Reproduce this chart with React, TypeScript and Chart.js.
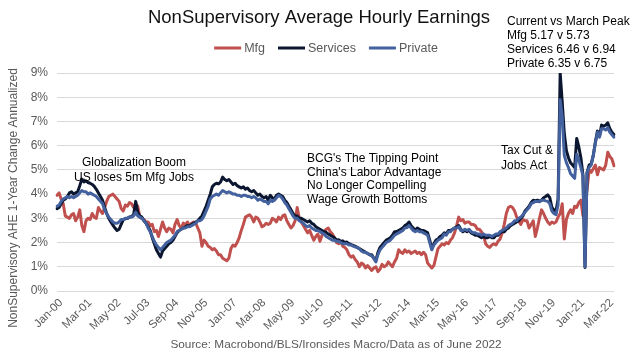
import React, { useEffect, useRef } from 'react';
import { Chart, registerables } from 'chart.js';

Chart.register(...registerables);

const MONTHS = ['Jan', 'Feb', 'Mar', 'Apr', 'May', 'Jun', 'Jul', 'Aug', 'Sep', 'Oct', 'Nov', 'Dec'];
const START_YEAR = 2000;
const POINT_COUNT = 270; // Jan-00 .. Jun-22
const LABEL_STEP = 14;
const categories: string[] = Array.from({ length: POINT_COUNT }, (_, i) =>
  `${MONTHS[i % 12]}-${String((START_YEAR + Math.floor(i / 12)) % 100).padStart(2, '0')}`
);

const Y_MIN = 0;
const Y_MAX = 9;

const seriesNames = ['Mfg', 'Services', 'Private'];
const seriesColors = ['#C0504D', '#0B1730', '#43619E'];

const mfg = [
  3.95, 4.05, 3.8, 3.6, 3.1, 3.05, 3.0, 3.15, 3.2, 2.9, 3.05, 3.35,
  2.7, 2.45, 2.9, 3.0, 2.95, 3.2, 3.05, 3.0, 3.45, 3.3, 3.2, 3.45,
  3.7, 3.9, 3.95, 4.0, 3.9, 3.8, 3.7, 3.4, 3.3, 3.55, 3.5, 3.65,
  3.6, 3.45, 3.6, 3.5, 3.05, 3.0, 2.95, 2.85, 2.85, 2.7, 2.75, 2.45,
  2.5, 2.25, 2.55, 2.85, 2.6, 2.45, 2.6, 2.55, 2.4, 2.75, 2.95, 2.7,
  2.6, 2.8, 2.75, 2.85, 2.7, 2.8, 2.85, 2.8, 2.6, 2.4, 1.85, 2.1,
  2.0, 1.85, 1.8, 1.7, 1.75, 1.65, 1.5, 1.5, 1.35, 1.3, 1.25, 1.35,
  1.75, 1.9, 1.85, 2.0, 2.2, 2.5, 2.75, 3.05, 3.1, 3.15, 3.05, 2.85,
  3.05, 3.0, 2.85, 2.65, 2.7, 2.8, 2.75, 2.8, 3.0, 2.95, 2.85, 3.05,
  2.95, 3.1, 3.15, 2.9, 2.75, 2.6, 2.7, 2.9, 3.45, 3.0, 2.85, 2.7,
  2.55, 2.4, 2.5, 2.3, 2.1, 2.25, 2.35, 2.05, 2.3, 2.45, 2.55, 2.6,
  2.45, 2.35, 2.2, 2.0, 1.95, 2.05, 1.85, 1.8, 1.7, 1.5, 1.4, 1.45,
  1.3, 1.2, 1.0, 1.15, 1.1, 0.95, 1.05, 0.95, 0.85, 0.95, 1.0, 0.8,
  0.9, 1.1, 1.0, 1.05, 1.2, 1.1, 1.0, 1.2, 1.35, 1.7, 1.6, 1.55,
  1.7, 1.6, 1.65, 1.55, 1.6, 1.65, 1.55, 1.6, 1.5, 1.6, 1.5, 1.15,
  1.05, 0.95, 1.05, 1.4, 1.75, 1.85, 1.95, 1.9, 2.0, 1.95, 2.1, 2.2,
  2.4, 2.7, 3.05, 2.9, 2.95, 2.8, 2.85, 2.85, 2.75, 2.75, 2.7, 2.55,
  2.55, 2.45, 2.3, 1.95, 1.85, 1.8, 1.9, 1.95, 1.9, 2.05, 2.15, 2.4,
  2.75, 3.2, 3.45, 3.5, 3.45, 3.3, 3.05, 2.9, 2.75, 2.95, 2.9, 2.9,
  2.6, 2.75, 2.9, 2.25, 2.6, 3.0, 3.35, 3.2, 3.0, 2.85, 2.75, 2.85,
  2.8, 2.85, 3.05, 3.2, 3.6, 2.15, 2.95, 3.2, 3.35, 3.2, 3.5, 3.45,
  3.65, 3.75, 3.1, 3.6, 4.2, 5.0, 4.9, 5.05, 5.2, 4.8, 5.1, 5.05,
  5.0, 5.2, 5.73, 5.55, 5.45, 5.17,
];

const services = [
  3.4, 3.45, 3.6, 3.75, 3.8, 3.9, 4.05, 4.1, 4.0, 4.05, 4.1, 4.35,
  4.62, 4.5, 4.55, 4.48, 4.45, 4.4, 4.32, 4.2, 4.05, 3.9, 3.75, 3.45,
  3.2, 3.0, 2.85, 2.72, 2.6, 2.5, 2.55, 2.75, 2.95, 2.98, 3.0, 3.05,
  3.08, 3.15, 3.7, 3.25, 3.1, 3.05, 2.9, 2.8, 2.65, 2.5, 2.2, 1.95,
  1.7, 1.55, 1.4, 1.65, 1.75, 1.85, 1.95, 2.0, 2.1, 2.25, 2.4, 2.5,
  2.55, 2.6, 2.65, 2.7, 2.68, 2.75, 2.8, 2.85, 2.9, 3.0, 3.1, 3.3,
  3.5, 3.75, 4.0, 4.3, 4.4, 4.45, 4.42, 4.5, 4.7, 4.6, 4.55, 4.6,
  4.5, 4.4, 4.45, 4.35, 4.3, 4.25, 4.3, 4.2, 4.25, 4.15, 4.1, 4.15,
  4.05, 3.95, 4.0, 3.9, 3.85, 3.9, 3.75, 3.95, 3.85, 3.8, 3.95, 4.0,
  3.95, 3.9, 3.75, 3.65, 3.5, 3.35, 3.2, 3.1, 3.1, 3.0, 3.0, 2.95,
  2.9, 2.85, 2.9, 2.8, 2.75, 2.65, 2.6, 2.55, 2.5, 2.45, 2.42, 2.35,
  2.3, 2.25, 2.2, 2.1, 2.12, 2.05, 2.07, 2.0, 2.02, 1.95, 1.92, 1.88,
  1.85, 1.8, 1.75, 1.7, 1.65, 1.6, 1.55, 1.5, 1.5, 1.35, 1.25, 1.6,
  1.8, 1.9, 2.0, 2.1, 2.15, 2.2, 2.3, 2.45, 2.45, 2.5, 2.55, 2.6,
  2.7, 2.75, 2.85, 2.7, 2.6, 2.5, 2.6, 2.55, 2.5, 2.5, 2.45, 2.4,
  2.1, 1.75, 1.95, 2.1, 2.15, 2.25, 2.3, 2.4, 2.35, 2.5, 2.5, 2.55,
  2.6, 2.65, 2.7, 2.55, 2.45, 2.5, 2.45, 2.5, 2.4, 2.35, 2.3, 2.3,
  2.25, 2.2, 2.25, 2.2, 2.2, 2.25, 2.2, 2.2, 2.3, 2.3, 2.4, 2.45,
  2.45, 2.55, 2.6, 2.7, 2.75, 2.8, 2.85, 2.9, 3.0, 3.1, 3.3, 3.4,
  3.5, 3.65, 3.75, 3.72, 3.75, 3.7, 3.75, 3.85, 3.9, 3.97, 3.85, 3.45,
  3.35, 3.3, 3.8, 9.0, 7.8, 6.5, 5.8, 5.5, 5.3, 5.2, 5.1, 6.3,
  5.95, 5.5, 4.8, 0.97, 4.9, 5.2, 5.25, 5.6, 6.15, 6.6, 6.4, 6.85,
  6.8, 6.85, 6.94, 6.7, 6.55, 6.46,
];

const privateSeries = [
  3.5, 3.55, 3.7, 3.8, 3.85, 3.9, 3.85, 3.9, 3.85, 3.9, 3.95, 4.05,
  4.15, 4.1, 4.1, 4.0, 4.05, 4.0, 3.95, 3.9, 3.8, 3.7, 3.6, 3.35,
  3.2, 3.05, 2.95, 2.85, 2.8, 2.8, 2.85, 2.95, 2.95, 3.0, 3.0, 3.05,
  3.05, 3.1, 3.25, 3.1, 3.05, 3.0, 2.9, 2.8, 2.6, 2.45, 2.25, 2.05,
  1.9, 1.8, 1.7, 1.8, 1.9, 2.0, 2.05, 2.1, 2.2, 2.3, 2.45, 2.5,
  2.55, 2.6, 2.6, 2.65, 2.65, 2.7, 2.75, 2.8, 2.9, 2.9, 2.95, 3.1,
  3.3, 3.5, 3.8, 3.9, 3.95, 4.0, 3.95, 4.05, 4.15, 4.1, 4.05, 4.1,
  4.05, 4.0, 4.0, 3.95, 3.95, 3.9, 3.95, 3.95, 3.9, 3.9, 3.85, 3.9,
  3.85, 3.75, 3.8, 3.75, 3.7, 3.7, 3.6, 3.75, 3.7, 3.75, 3.85, 3.95,
  3.9, 3.8, 3.65, 3.55, 3.4, 3.25, 3.1, 3.0, 3.0, 2.9, 2.85, 2.8,
  2.7, 2.65, 2.7, 2.6, 2.55, 2.5, 2.5, 2.45, 2.4, 2.35, 2.25, 2.2,
  2.15, 2.1, 2.1, 2.05, 2.05, 2.0, 1.95, 1.95, 1.95, 1.9, 1.9, 1.85,
  1.82, 1.8, 1.75, 1.65, 1.6, 1.6, 1.55, 1.5, 1.45, 1.35, 1.2, 1.5,
  1.7, 1.8, 1.9, 2.0, 2.05, 2.1, 2.2, 2.3, 2.35, 2.4, 2.45, 2.5,
  2.6, 2.62, 2.7, 2.6, 2.5, 2.45, 2.5, 2.45, 2.45, 2.4, 2.35, 2.3,
  2.0, 1.7, 1.9, 2.0, 2.1, 2.15, 2.2, 2.35, 2.3, 2.45, 2.45, 2.55,
  2.6, 2.6, 2.65, 2.5, 2.5, 2.55, 2.5, 2.55, 2.45, 2.4, 2.4, 2.35,
  2.35, 2.3, 2.35, 2.3, 2.3, 2.3, 2.25, 2.3, 2.35, 2.35, 2.45, 2.5,
  2.55, 2.6, 2.7, 2.75, 2.8, 2.9, 2.9, 3.0, 3.05, 3.15, 3.25, 3.35,
  3.45, 3.6, 3.65, 3.7, 3.7, 3.68, 3.75, 3.75, 3.72, 3.7, 3.6, 3.3,
  3.2, 3.15, 3.55, 7.9, 7.2, 5.6, 5.3, 5.1, 4.85, 4.75, 4.65, 5.65,
  5.4, 5.1, 4.75, 1.0, 4.9, 5.1, 5.2, 5.6, 6.1, 6.55, 6.35, 6.7,
  6.7, 6.65, 6.75, 6.55, 6.45, 6.35,
];

const TITLE = 'NonSupervisory Average Hourly Earnings';
const Y_TITLE = 'NonSupervisory AHE 1-Year Change Annualized';
const SOURCE = 'Source: Macrobond/BLS/Ironsides Macro/Data as of June 2022';
const PEAK_NOTE = ['Current vs March Peak', 'Mfg 5.17 v 5.73', 'Services 6.46 v 6.94', 'Private 6.35 v 6.75'];
const GLOBAL_NOTE = ['Globalization Boom', 'US loses 5m Mfg Jobs'];
const BCG_NOTE = ["BCG's The Tipping Point", "China's Labor Advantage", 'No Longer Compelling', 'Wage Growth Bottoms'];
const TAX_NOTE = ['Tax Cut &', 'Jobs Act'];

const FONT = '"Liberation Sans", Arial, sans-serif';
const GREY = '#595959';

const textPlugin = {
  id: 'chartTexts',
  afterDraw(chart: any) {
    const ctx: CanvasRenderingContext2D = chart.ctx;
    ctx.save();
    ctx.textBaseline = 'middle';

    // Title
    ctx.fillStyle = '#111111';
    ctx.textAlign = 'center';
    ctx.font = `18.5px ${FONT}`;
    ctx.fillText(TITLE, 319, 18);

    // Legend
    ctx.font = `12.5px ${FONT}`;
    const sw = 27, gapText = 3, gapItem = 13;
    const widths = seriesNames.map((n) => ctx.measureText(n).width);
    const total = widths.reduce((a, w) => a + sw + gapText + w, 0) + gapItem * (seriesNames.length - 1);
    let lx = 326 - total / 2;
    const ly = 48;
    ctx.textAlign = 'left';
    seriesNames.forEach((n, i) => {
      ctx.strokeStyle = seriesColors[i];
      ctx.lineWidth = 3;
      ctx.beginPath();
      ctx.moveTo(lx, ly);
      ctx.lineTo(lx + sw, ly);
      ctx.stroke();
      ctx.fillStyle = GREY;
      ctx.fillText(n, lx + sw + gapText, ly + 0.5);
      lx += sw + gapText + widths[i] + gapItem;
    });

    // Annotations
    ctx.fillStyle = '#000000';
    ctx.font = `12px ${FONT}`;
    ctx.textAlign = 'left';
    PEAK_NOTE.forEach((t, i) => ctx.fillText(t, 507, 22 + i * 14));
    ctx.textAlign = 'center';
    GLOBAL_NOTE.forEach((t, i) => ctx.fillText(t, 134, 163 + i * 15));
    ctx.textAlign = 'left';
    BCG_NOTE.forEach((t, i) => ctx.fillText(t, 307, 159 + i * 13.5));
    TAX_NOTE.forEach((t, i) => ctx.fillText(t, 501, 151 + i * 14.5));

    // Y axis title
    ctx.fillStyle = GREY;
    ctx.font = `12px ${FONT}`;
    ctx.textAlign = 'center';
    ctx.save();
    ctx.translate(14, 198);
    ctx.rotate(-Math.PI / 2);
    ctx.fillText(Y_TITLE, 0, 0);
    ctx.restore();

    // Source
    ctx.font = `11.8px ${FONT}`;
    ctx.fillText(SOURCE, 336, 345);

    ctx.restore();
  },
};

export default function App() {
  const canvasRef = useRef<HTMLCanvasElement | null>(null);

  useEffect(() => {
    if (!canvasRef.current) return;
    const series = [mfg, services, privateSeries];
    const chart = new Chart(canvasRef.current, {
      type: 'line',
      data: {
        labels: categories,
        datasets: series.map((d, i) => ({
          label: seriesNames[i],
          data: d,
          borderColor: seriesColors[i],
          backgroundColor: seriesColors[i],
          borderWidth: 3,
          pointRadius: 0,
          tension: 0,
          borderJoinStyle: 'round' as const,
          borderCapStyle: 'round' as const,
          order: 3 - i,
        })),
      },
      options: {
        responsive: false,
        animation: false,
        events: [],
        layout: { padding: { left: 0, right: 21, top: 73, bottom: 22 } },
        plugins: {
          legend: { display: false },
          title: { display: false },
          tooltip: { enabled: false },
        },
        scales: {
          x: {
            type: 'category',
            offset: false,
            grid: { display: false, drawTicks: false },
            border: { display: false },
            afterBuildTicks: (scale: any) => {
              scale.ticks = scale.ticks.filter((_: any, i: number) => i % LABEL_STEP === 0);
            },
            afterFit: (scale: any) => {
              scale.height = 45;
            },
            ticks: {
              autoSkip: false,
              maxRotation: 45,
              minRotation: 45,
              padding: 5,
              labelOffset: 4,
              color: GREY,
              font: { family: FONT, size: 11.5 },
            },
          },
          y: {
            min: Y_MIN,
            max: Y_MAX,
            grid: { color: '#D9D9D9', lineWidth: 1, drawTicks: false },
            border: { display: false },
            afterFit: (scale: any) => {
              scale.width = 57;
            },
            ticks: {
              stepSize: 1,
              padding: 9,
              color: GREY,
              font: { family: FONT, size: 12 },
              callback: (v: any) => `${v}%`,
            },
          },
        },
      },
      plugins: [textPlugin],
    });
    return () => chart.destroy();
  }, []);

  return (
    <div style={{ position: 'absolute', left: 0, top: 0, width: 635, height: 358, background: '#ffffff' }}>
      <canvas ref={canvasRef} width={635} height={358} style={{ display: 'block', width: 635, height: 358 }} />
    </div>
  );
}
